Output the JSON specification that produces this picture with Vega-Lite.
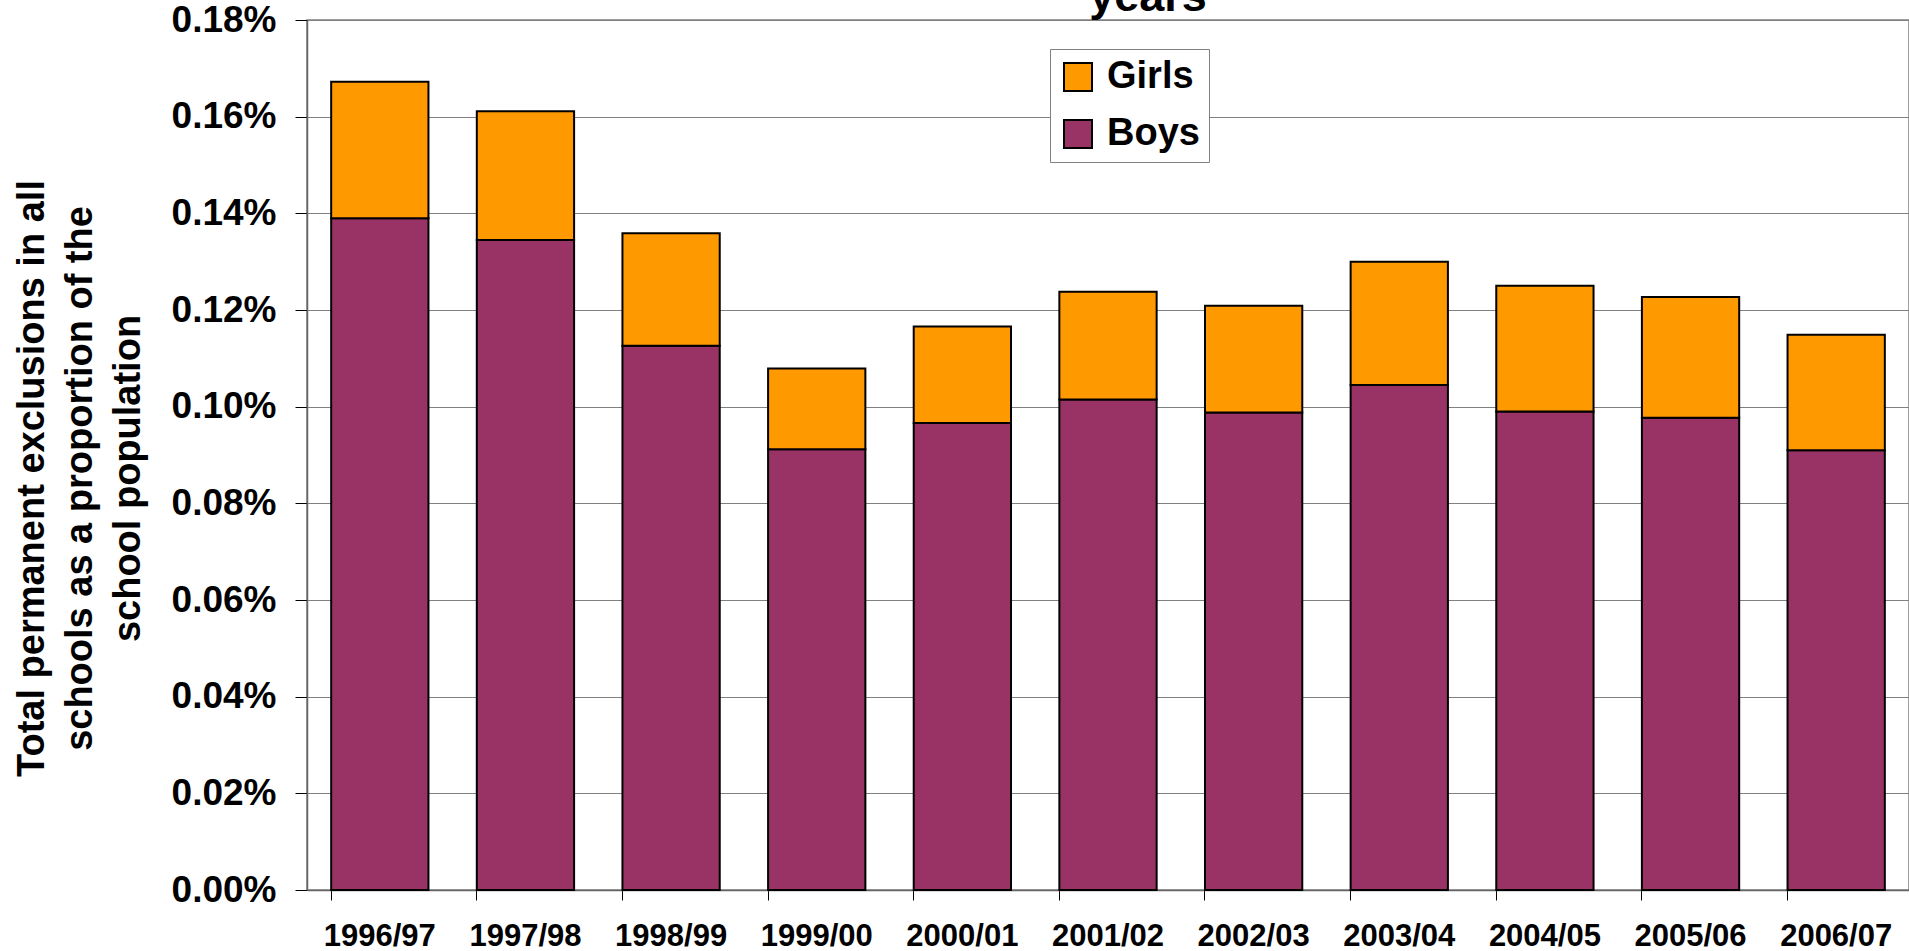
{
  "$schema": "https://vega.github.io/schema/vega-lite/v6.json",
  "autosize": {"type": "none"},
  "width": 1602,
  "height": 870,
  "padding": {"left": 307, "top": 20, "right": 0, "bottom": 61},
  "background": "white",
  "title": {
    "text": "years",
    "font": "Liberation Sans",
    "fontSize": 45,
    "fontWeight": "bold",
    "color": "black",
    "anchor": "middle",
    "frame": "group",
    "baseline": "alphabetic",
    "offset": 0,
    "dx": 40,
    "dy": 55
  },
  "data": {
    "values": [
      {"year": "1996/97", "sex": "Boys", "value": 0.001390},
      {"year": "1996/97", "sex": "Girls", "value": 0.000282},
      {"year": "1997/98", "sex": "Boys", "value": 0.001345},
      {"year": "1997/98", "sex": "Girls", "value": 0.000266},
      {"year": "1998/99", "sex": "Boys", "value": 0.001126},
      {"year": "1998/99", "sex": "Girls", "value": 0.000233},
      {"year": "1999/00", "sex": "Boys", "value": 0.000912},
      {"year": "1999/00", "sex": "Girls", "value": 0.000167},
      {"year": "2000/01", "sex": "Boys", "value": 0.000966},
      {"year": "2000/01", "sex": "Girls", "value": 0.000200},
      {"year": "2001/02", "sex": "Boys", "value": 0.001015},
      {"year": "2001/02", "sex": "Girls", "value": 0.000223},
      {"year": "2002/03", "sex": "Boys", "value": 0.000988},
      {"year": "2002/03", "sex": "Girls", "value": 0.000221},
      {"year": "2003/04", "sex": "Boys", "value": 0.001045},
      {"year": "2003/04", "sex": "Girls", "value": 0.000255},
      {"year": "2004/05", "sex": "Boys", "value": 0.000990},
      {"year": "2004/05", "sex": "Girls", "value": 0.000260},
      {"year": "2005/06", "sex": "Boys", "value": 0.000977},
      {"year": "2005/06", "sex": "Girls", "value": 0.000250},
      {"year": "2006/07", "sex": "Boys", "value": 0.000910},
      {"year": "2006/07", "sex": "Girls", "value": 0.000239}
    ]
  },
  "mark": {"type": "bar", "stroke": "black", "strokeWidth": 2},
  "encoding": {
    "x": {
      "field": "year",
      "type": "nominal",
      "sort": null,
      "scale": {"paddingInner": 0.332, "paddingOuter": 0.166},
      "axis": {
        "title": null,
        "labelAngle": 0,
        "labelFont": "Liberation Sans",
        "labelFontSize": 31,
        "labelFontWeight": "bold",
        "labelColor": "black",
        "labelPadding": 21,
        "labelBaseline": "top",
        "bandPosition": 0,
        "tickSize": 10,
        "tickColor": "black",
        "tickWidth": 1,
        "domainColor": "#666666",
        "domainWidth": 1.5,
        "grid": false
      }
    },
    "y": {
      "field": "value",
      "type": "quantitative",
      "stack": "zero",
      "scale": {"domain": [0, 0.0018], "nice": false},
      "axis": {
        "values": [0, 0.0002, 0.0004, 0.0006, 0.0008, 0.001, 0.0012, 0.0014, 0.0016, 0.0018],
        "format": ".2%",
        "labelFont": "Liberation Sans",
        "labelFontSize": 37,
        "labelFontWeight": "bold",
        "labelColor": "black",
        "labelPadding": 19,
        "tickSize": 12,
        "tickColor": "black",
        "tickWidth": 1,
        "domainColor": "#666666",
        "domainWidth": 1.5,
        "grid": true,
        "gridColor": "#808080",
        "gridWidth": 1.2,
        "title": ["Total permanent exclusions in all", "schools as a proportion of the", "school population"],
        "titleFont": "Liberation Sans",
        "titleFontSize": 38,
        "titleFontWeight": "bold",
        "titleColor": "black",
        "titleLineHeight": 48,
        "titleAngle": -90,
        "titleAlign": "center",
        "titleBaseline": "alphabetic",
        "titleX": -264,
        "titleY": 458
      }
    },
    "color": {
      "field": "sex",
      "type": "nominal",
      "scale": {"domain": ["Girls", "Boys"], "range": ["#FF9900", "#993366"]},
      "legend": {
        "title": null,
        "orient": "none",
        "legendX": 743,
        "legendY": 29,
        "direction": "vertical",
        "fillColor": "white",
        "strokeColor": "#808080",
        "padding": 9,
        "symbolType": "square",
        "symbolSize": 784,
        "symbolStrokeColor": "black",
        "symbolStrokeWidth": 2,
        "symbolOpacity": 1,
        "labelFont": "Liberation Sans",
        "labelFontSize": 38,
        "labelFontWeight": "bold",
        "labelColor": "black",
        "labelOffset": 10,
        "rowPadding": 19
      }
    },
    "order": {"field": "sex", "sort": "ascending"}
  },
  "config": {
    "font": "Liberation Sans",
    "view": {"stroke": "#808080", "strokeWidth": 1.5}
  }
}
